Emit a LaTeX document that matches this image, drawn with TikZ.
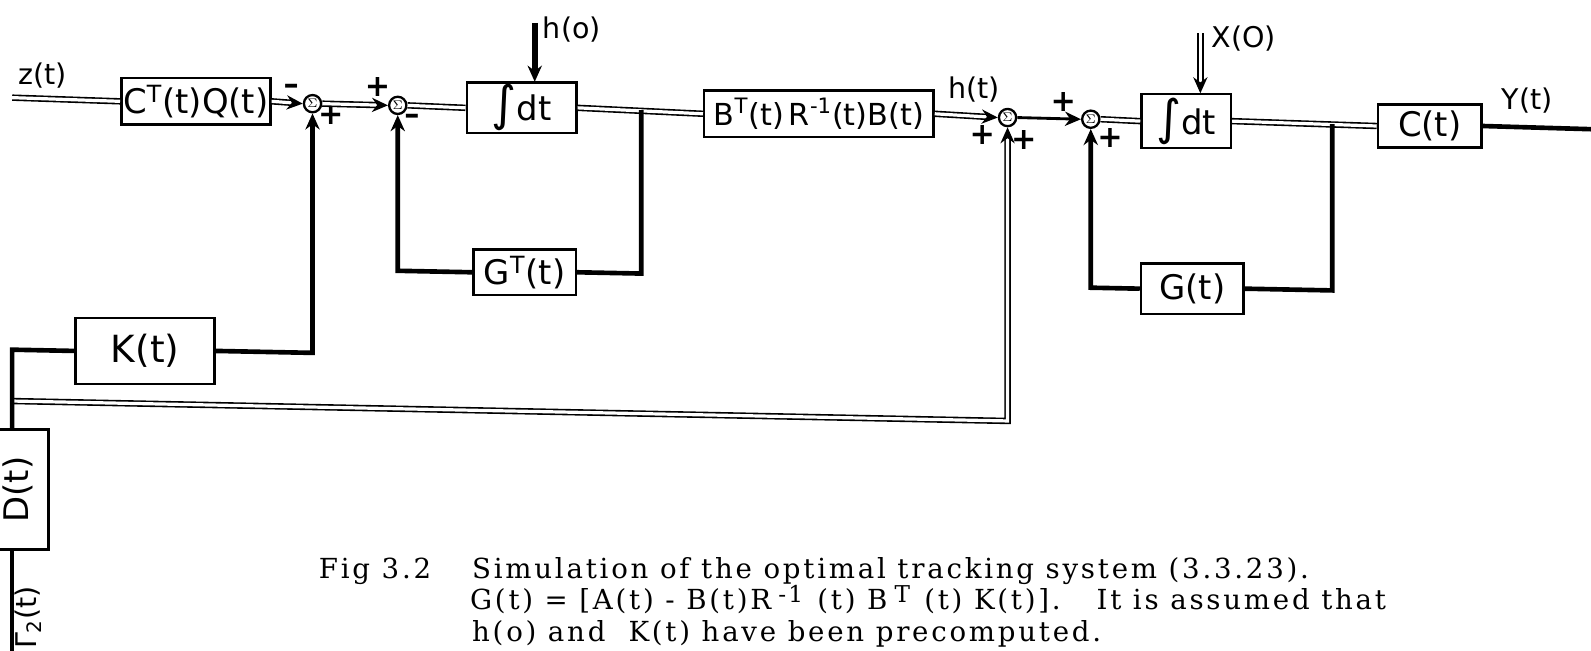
\documentclass[tikz,border=0pt]{standalone}
\usepackage{fontspec}
\newfontfamily\handfont{DejaVu Sans}
\newfontfamily\capfont[LetterSpace=10]{DejaVu Serif}
\usetikzlibrary{arrows.meta,calc}

\tikzset{
  box/.style={draw, line width=1.4pt, inner sep=1pt, font=\handfont\fontsize{19}{22}\selectfont},
  sumj/.style={draw, circle, line width=1.3pt, minimum size=0.34cm, inner sep=0pt, font=\fontsize{7}{7}\selectfont},
  vec/.style={double, line width=0.9pt, double distance=1.8pt},
  sig/.style={line width=2.6pt},
  arr/.style={-{Stealth[length=9pt,width=8pt]}},
  lbl/.style={font=\handfont\fontsize{16}{18}\selectfont, inner sep=1pt},
  sgn/.style={font=\handfont\bfseries\fontsize{17}{17}\selectfont, inner sep=0pt},
  captxt/.style={font=\capfont\fontsize{15.5}{18}\selectfont, inner sep=0pt}
}
\newcommand{\integ}{{\fontsize{27}{27}\selectfont ∫}}
\newcommand{\capsup}[1]{\hspace{4pt}\raisebox{4pt}{\fontsize{13}{13}\selectfont #1}\hspace{8pt}}

\begin{document}
\begin{tikzpicture}[x=0.02cm, y=-0.02cm]
\useasboundingbox (0,0) rectangle (1568,641);

% the scan is a little skewed: main line drops to the right
\begin{scope}[yslant=-0.02]
    % blocks of the h(t) loop
    \node[box, minimum width=2.94cm, minimum height=0.92cm] (ctq) at (193,96) {C\textsuperscript{T}(t)Q(t)};
    \node[sumj] (s1) at (308,96) {$\Sigma$};
    \node[sumj] (s2) at (392,96) {$\Sigma$};
    \node[box, minimum width=2.16cm, minimum height=0.94cm] (int1) at (514,96) {\integ dt};
    \node[box, minimum width=4.52cm, minimum height=0.92cm, font=\handfont\fontsize{17}{20}\selectfont] (btrb) at (807,96) {B\textsuperscript{T}(t)\,R\textsuperscript{-1}(t)B(t)};
    \node[box, minimum width=2.02cm, minimum height=0.9cm] (gt) at (517,258) {G\textsuperscript{T}(t)};
    % blocks of the state loop
    \node[sumj] (s3) at (993,96) {$\Sigma$};
    \node[sumj] (s4) at (1075,96) {$\Sigma$};
    \node[box, minimum width=1.76cm, minimum height=1.06cm] (int2) at (1169,96) {\integ dt};
    \node[box, minimum width=2.04cm, minimum height=0.84cm] (ct) at (1409,96) {C(t)};
    \node[box, minimum width=2.02cm, minimum height=1.0cm] (g) at (1175,261) {G(t)};
    % gain and disturbance
    \node[box, minimum width=2.74cm, minimum height=1.3cm, font=\handfont\fontsize{21}{24}\selectfont] (k) at (143,343) {K(t)};
    \node[box, minimum width=1.2cm, minimum height=2.36cm] (d) at (18,482) {\rotatebox{90}{D(t)}};

    \coordinate (zin) at (12,96);
    \coordinate (b1) at (632,96);
    \coordinate (b2) at (1313,96);
    \coordinate (yout) at (1572,96);
    \coordinate (ho) at (527,12);
    \coordinate (xo) at (1183,9);
    \coordinate (j) at (12,395);
    \coordinate (rin) at (12,650);
    \coordinate (dtop) at (d.north -| rin);
    \coordinate (dbot) at (d.south -| rin);

    % labels
    \node[lbl] (zlbl) at (42,74) {z(t)};
    \node[lbl, anchor=west] (holbl) at (533,18) {h(o)};
    \node[lbl] (htlbl) at (960,69) {h(t)};
    \node[lbl, anchor=west] (xolbl) at (1192,14) {X(O)};
    \node[lbl, anchor=west] (ylbl) at (1478,70) {Y(t)};
    \node[lbl, rotate=90] (rlbl) at (28,608) {Γ\textsubscript{2}(t)};

    % signs at the summing points
    \node[sgn] (m1) at (287,82) {–};
    \node[sgn] (p1) at (326,107) {+};
    \node[sgn] (p2) at (372,78) {+};
    \node[sgn] (m2) at (406,110) {–};
    \node[sgn] (p3) at (968,114) {+};
    \node[sgn] (p4) at (1009,118) {+};
    \node[sgn] (p5) at (1048,80) {+};
    \node[sgn] (p6) at (1094,114) {+};

    % vector signals
    \draw[vec] (zin) -- (ctq.west);
    \draw[vec,arr] (ctq.east) -- (s1.west);
    \draw[vec,arr] (s1.east) -- (s2.west);
    \draw[vec] (s2.east) -- (int1.west);
    \draw[vec] (int1.east) -- (btrb.west);
    \draw[vec,arr] (btrb.east) -- (s3.west);
    \draw[line width=1.6pt,arr] (s3.east) -- (s4.west);
    \draw[vec] (s4.east) -- (int2.west);
    \draw[vec] (int2.east) -- (ct.west);
    \draw[vec,arr] (j) -| (s3.south);
    \draw[vec,arr] (xo) -- (xo |- int2.north);

    % feedback and gain paths
    \draw[sig] (ct.east) -- (yout);
    \draw[sig] (b1) |- (gt.east);
    \draw[sig,arr] (gt.west) -| (s2.south);
    \draw[sig] (b2) |- (g.east);
    \draw[sig,arr] (g.west) -| (s4.south);
    \draw[sig,arr] (k.east) -| (s1.south);
    \draw[sig] (k.west) -| (dtop);
    \draw[sig] (rin) -- (dbot);
    \draw[sig,line width=3.4pt,arr] (ho) -- (ho |- int1.north);
\end{scope}

% caption
\node[captxt, anchor=base west] (fig) at (314,570) {Fig 3.2};
\node[captxt, anchor=base west] (cap1) at (465,570) {Simulation of the optimal tracking system (3.3.23).};
\node[captxt, anchor=base west] (cap2) at (463,601) {G(t) = [A(t) - B(t)R\capsup{-1}(t) B\capsup{T}(t) K(t)].\hspace{1.3em}It is assumed that};
\node[captxt, anchor=base west] (cap3) at (465,632) {h(o) and\ \ K(t) have been precomputed.};
\end{tikzpicture}
\end{document}
